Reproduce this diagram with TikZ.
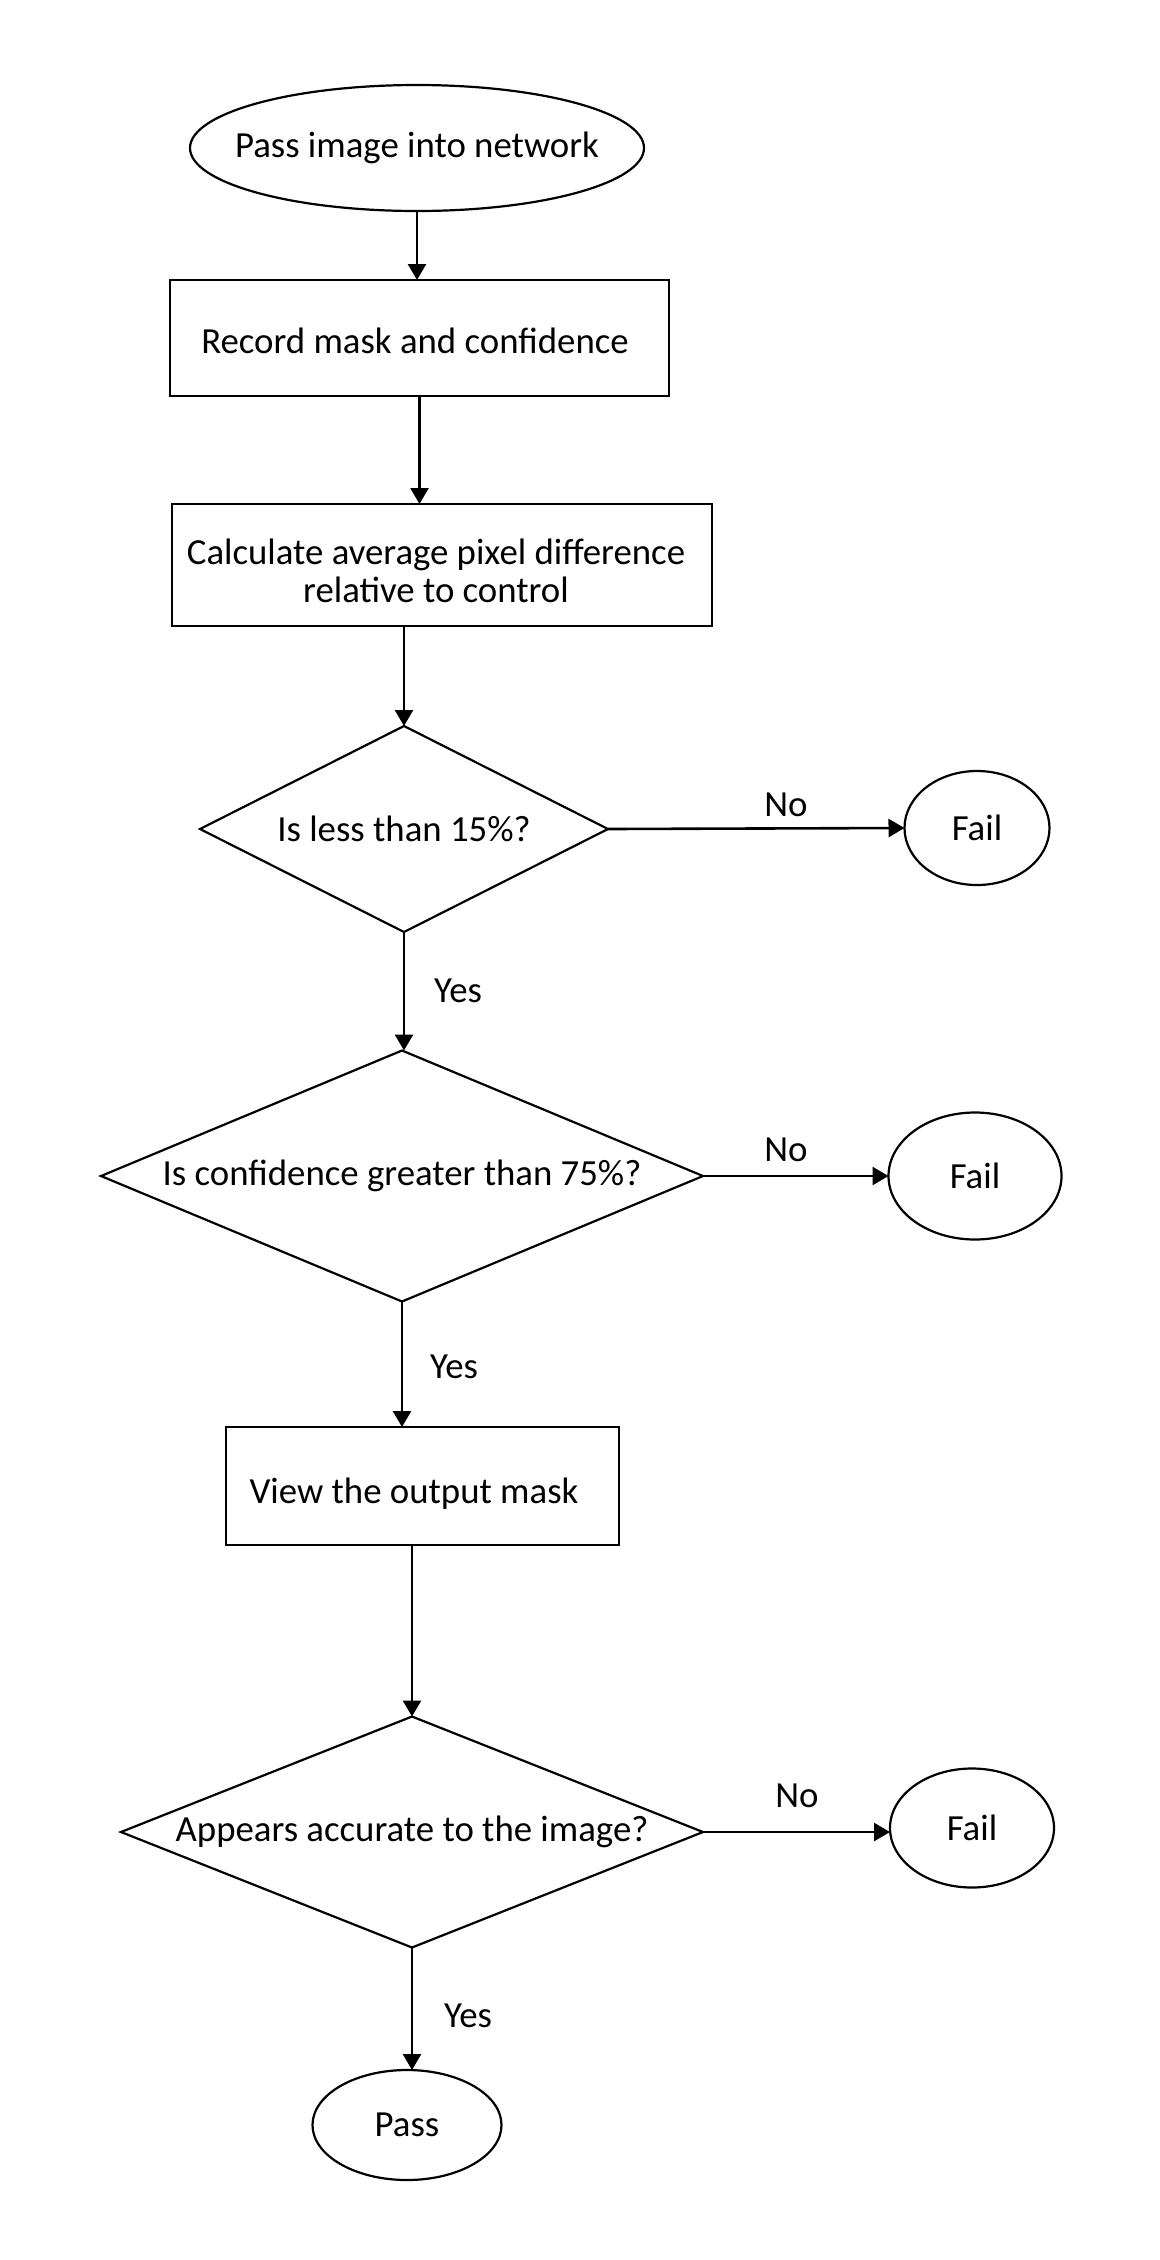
\documentclass[tikz,border=0pt]{standalone}
\usepackage{fontspec}
\setmainfont{Carlito}
\usetikzlibrary{shapes.geometric,arrows.meta}
\begin{document}
\begin{tikzpicture}[x=0.5pt,y=-0.5pt,
  every node/.style={font=\fontsize{18.4}{19}\selectfont},
  base/.style={draw=black,line width=1.4pt,inner sep=0pt,outer sep=0pt},
  procbox/.style={base,rectangle},
  oval/.style={base,ellipse,line width=1.1pt},
  decision/.style={base,diamond,line width=1.1pt},
  lbl/.style={inner sep=0pt},
  arr/.style={line width=1.3pt,-{Triangle[length=8pt,width=9pt]}}]
\fill[white] (0,0) rectangle (1160,2260);
\useasboundingbox (0,0) rectangle (1160,2260);

\node[oval,minimum width=227pt,minimum height=63pt] (start) at (417,148) {\makebox[0pt]{Pass image into network}};
\node[procbox,minimum width=249.5pt,minimum height=58pt] (rec) at (419.5,338) {};
\node[lbl] (rect) at (415,341) {Record mask and confidence};
\node[procbox,minimum width=270pt,minimum height=61pt] (calc) at (442,565) {};
\node[lbl,align=center] (calct) at (436,571) {Calculate average pixel difference\\relative to control};

\node[decision,minimum width=204pt,minimum height=103pt] (d1) at (404,829) {\makebox[0pt]{Is less than 15\%?}};
\node[oval,minimum width=72.5pt,minimum height=57pt] (f1) at (977,828) {\makebox[0pt]{Fail}};
\node[decision,minimum width=301pt,minimum height=125.5pt] (d2) at (402,1176) {\makebox[0pt]{Is confidence greater than 75\%?}};
\node[oval,minimum width=86.5pt,minimum height=63.5pt] (f2) at (975,1176) {\makebox[0pt]{Fail}};
\node[procbox,minimum width=196.5pt,minimum height=59pt] (view) at (422.5,1486) {};
\node[lbl] (viewt) at (414,1494) {View the output mask};
\node[decision,minimum width=291pt,minimum height=115.5pt] (d3) at (412,1832) {\makebox[0pt]{Appears accurate to the image?}};
\node[oval,minimum width=82pt,minimum height=59.5pt] (f3) at (972,1828) {\makebox[0pt]{Fail}};
\node[oval,minimum width=94.5pt,minimum height=55pt] (pass) at (407,2125) {\makebox[0pt]{Pass}};

\node[lbl] (no1) at (786,805) {No};
\node[lbl] (no2) at (786,1150) {No};
\node[lbl] (no3) at (797,1796) {No};
\node[lbl] (yes1) at (458,991) {Yes};
\node[lbl] (yes2) at (454,1367) {Yes};
\node[lbl] (yes3) at (468,2016) {Yes};

\draw[arr] (start.south) -- (start.south |- rec.north);
\draw[arr] (rec.south) -- (rec.south |- calc.north);
\draw[arr] (calc.south -| d1.north) -- (d1.north);
\draw[arr] (d1.east) -- (f1.west);
\draw[arr] (d1.south) -- (d1.south |- d2.north);
\draw[arr] (d2.east) -- (f2.west);
\draw[arr] (d2.south) -- (d2.south |- view.north);
\draw[arr] (view.south -| d3.north) -- (d3.north);
\draw[arr] (d3.east) -- (d3.east -| f3.west);
\draw[arr] (d3.south) -- (d3.south |- pass.north);
\end{tikzpicture}
\end{document}
